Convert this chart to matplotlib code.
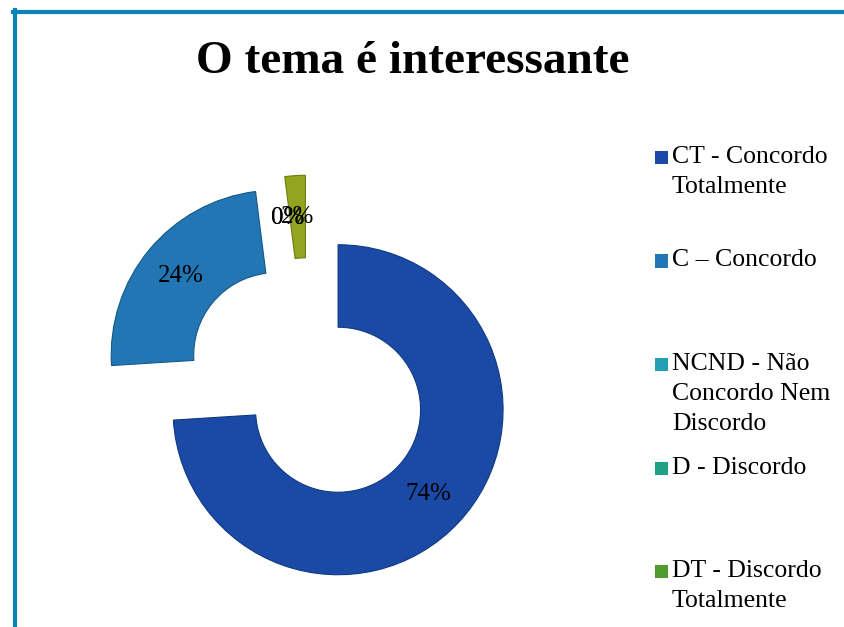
import matplotlib
matplotlib.use("Agg")
import matplotlib.pyplot as plt
from matplotlib.lines import Line2D
from matplotlib.patches import Rectangle

# data
categories = [
    "CT - Concordo\nTotalmente",
    "C – Concordo",
    "NCND - Não\nConcordo Nem\nDiscordo",
    "D - Discordo",
    "DT - Discordo\nTotalmente",
]
values = [74, 24, 0, 0, 2]
title = "O tema é interessante"

slice_colors = ["#1b49a6", "#2176b3", "#23a0b6", "#1fa184", "#93a51f"]
edge_colors = ["#103a80", "#15588a", "#15788a", "#15785f", "#6c7d10"]
legend_colors = ["#1b49a6", "#2176b3", "#23a0b6", "#1fa184", "#4f9b2c"]

W, H = 844, 627
fig = plt.figure(figsize=(W / 100, H / 100), dpi=100)
plt.rcParams["font.family"] = ["Liberation Serif", "DejaVu Serif"]

# donut centre and radius in pixels
cx, cy, r = 308, 381.5, 165
ax = fig.add_axes([0, 0, 1, 1])

wedges, texts, autotexts = ax.pie(
    values,
    colors=slice_colors,
    startangle=90,
    counterclock=False,
    explode=[0.25] * len(values),
    radius=1.0,
    autopct="%1.0f%%",
    pctdistance=0.75,
    wedgeprops=dict(width=0.5, linewidth=0.8),
    textprops=dict(fontsize=18, color="black"),
)
for w, ec, v in zip(wedges, edge_colors, values):
    if v == 0:
        w.set_linewidth(0)
    else:
        w.set_edgecolor(ec)

ax.set_aspect("auto")
ax.set_xlim(-cx / r, (W - cx) / r)
ax.set_ylim((cy - H) / r, cy / r)
ax.axis("off")

fig.text(413 / W, 1 - 62 / H, title, ha="center", va="center",
         fontsize=34, fontweight="bold")

# legend, entries top-aligned in equal slots
for i, (label, col) in enumerate(zip(categories, legend_colors)):
    top = 141 + i * 103.5
    fig.add_artist(Rectangle((655 / W, 1 - (top + 23) / H), 13 / W, 13 / H,
                             transform=fig.transFigure, facecolor=col,
                             edgecolor="none"))
    fig.text(672 / W, 1 - (top + 5) / H, label, ha="left", va="top",
             fontsize=18.5, linespacing=1.48)

# frame lines at top and left
border = "#0b84b4"
fig.add_artist(Line2D([13 / W, 1], [1 - 11.5 / H, 1 - 11.5 / H],
                      transform=fig.transFigure, color=border, lw=3))
fig.add_artist(Line2D([14.5 / W, 14.5 / W], [0, 1 - 10 / H],
                      transform=fig.transFigure, color=border, lw=3))

fig.savefig("out.png", dpi=100)
